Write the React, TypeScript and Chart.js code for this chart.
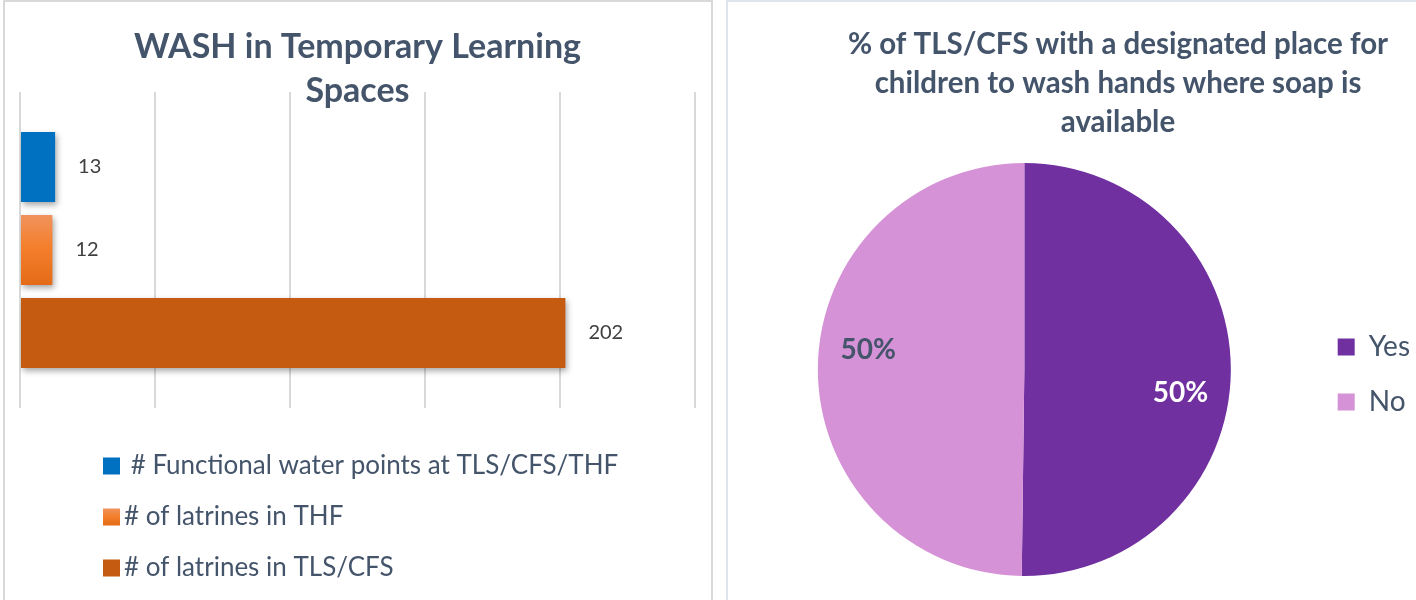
import React, { useEffect, useRef } from 'react';
import { Chart, registerables } from 'chart.js';

Chart.register(...registerables);
Chart.defaults.font.family = 'Lato';

// ---------- Bar chart data ----------
const barTitle = ['WASH in Temporary Learning', 'Spaces'];
const barCategories = [''];
const barSeriesLabels = [
  ' # Functional water points at TLS/CFS/THF',
  '# of latrines in THF',
  '# of latrines in TLS/CFS',
];
const barSeriesValues = [13, 12, 202];
const barAxisMin = 0;
const barAxisMax = 250;
const barAxisStep = 50;

// ---------- Pie chart data ----------
const pieTitle = [
  '% of TLS/CFS with a designated place for',
  'children to wash hands where soap is',
  'available',
];
const pieLabels = ['Yes', 'No'];
const pieValues = [50.2, 49.8];

// ---------- Styles ----------
const TITLE_COLOR = '#44546A';
const BLUE = '#0070C0';
const DARK_ORANGE = '#C55A11';
const CAT_PCT = 0.788;
const BAR_PCT = 0.843;
const pieColors = ['#7030A0', '#D592D6'];
const pieLabelColors = ['#FFFFFF', '#44546A'];

function orangeGradient(ctx: CanvasRenderingContext2D, top: number, bottom: number) {
  const g = ctx.createLinearGradient(0, top, 0, bottom);
  g.addColorStop(0, '#F0935E');
  g.addColorStop(0.45, '#F47F2C');
  g.addColorStop(1, '#E46C18');
  return g;
}

const barShadow = {
  id: 'barShadow',
  beforeDatasetDraw(chart: any) {
    const ctx = chart.ctx;
    ctx.save();
    ctx.shadowColor = 'rgba(0,0,0,0.35)';
    ctx.shadowBlur = 6;
    ctx.shadowOffsetX = 2;
    ctx.shadowOffsetY = 3;
  },
  afterDatasetDraw(chart: any) {
    chart.ctx.restore();
  },
};

const barValueLabels = {
  id: 'barValueLabels',
  afterDatasetsDraw(chart: any) {
    const ctx = chart.ctx;
    ctx.save();
    ctx.font = '20px Lato';
    ctx.fillStyle = '#404040';
    ctx.textAlign = 'left';
    ctx.textBaseline = 'middle';
    chart.data.datasets.forEach((ds: any, i: number) => {
      const meta = chart.getDatasetMeta(i);
      meta.data.forEach((el: any, j: number) => {
        ctx.fillText(String(ds.data[j]), el.x + 23, el.y);
      });
    });
    ctx.restore();
  },
};

const barLegend = {
  id: 'barLegend',
  afterDraw(chart: any) {
    const { ctx, chartArea } = chart;
    ctx.save();
    ctx.font = '26px Lato';
    ctx.textAlign = 'left';
    ctx.textBaseline = 'middle';
    chart.data.datasets.forEach((ds: any, i: number) => {
      const y = chartArea.bottom + 58 + i * 51;
      const x = chartArea.left + 83;
      const size = 17;
      ctx.fillStyle = i === 1 ? orangeGradient(ctx, y - size / 2, y + size / 2) : ds.legendColor;
      ctx.fillRect(x, y - size / 2, size, size);
      ctx.fillStyle = TITLE_COLOR;
      ctx.fillText(ds.label, x + size + 4, y);
    });
    ctx.restore();
  },
};

const pieValueLabels = {
  id: 'pieValueLabels',
  afterDatasetsDraw(chart: any) {
    const ctx = chart.ctx;
    const data: number[] = chart.data.datasets[0].data;
    const total = data.reduce((a, b) => a + b, 0);
    const meta = chart.getDatasetMeta(0);
    ctx.save();
    ctx.font = 'bold 28px Lato';
    ctx.textAlign = 'center';
    ctx.textBaseline = 'middle';
    meta.data.forEach((arc: any, i: number) => {
      const { x, y, startAngle, endAngle, outerRadius } = arc.getProps(
        ['x', 'y', 'startAngle', 'endAngle', 'outerRadius'],
        true
      );
      const mid = (startAngle + endAngle) / 2 + 0.128;
      const r = outerRadius * 0.763;
      ctx.fillStyle = pieLabelColors[i];
      ctx.fillText(
        Math.round((data[i] / total) * 100) + '%',
        x + Math.cos(mid) * r,
        y + Math.sin(mid) * r + 2
      );
    });
    ctx.restore();
  },
};

const widenTitle = {
  id: 'widenTitle',
  afterLayout(chart: any) {
    const t = chart.titleBlock;
    if (t) {
      t.left = 0;
      t.right = chart.width;
      t.width = chart.width;
    }
  },
};

function BarPanel() {
  const ref = useRef<HTMLCanvasElement>(null);
  useEffect(() => {
    if (!ref.current) return;
    const chart = new Chart(ref.current, {
      type: 'bar',
      data: {
        labels: barCategories,
        datasets: [
          {
            label: barSeriesLabels[0],
            data: [barSeriesValues[0]],
            backgroundColor: BLUE,
            legendColor: BLUE,
            categoryPercentage: CAT_PCT,
            barPercentage: BAR_PCT,
          } as any,
          {
            label: barSeriesLabels[1],
            data: [barSeriesValues[1]],
            backgroundColor: (c: any) => {
              const chart = c.chart;
              const area = chart.chartArea;
              if (!area || !chart.scales.y) return '#ED7D31';
              const center = chart.scales.y.getPixelForValue(0);
              const h = ((area.bottom - area.top) * CAT_PCT * BAR_PCT) / 3;
              return orangeGradient(chart.ctx, center - h / 2, center + h / 2);
            },
            legendColor: '#ED7D31',
            categoryPercentage: CAT_PCT,
            barPercentage: BAR_PCT,
          } as any,
          {
            label: barSeriesLabels[2],
            data: [barSeriesValues[2]],
            backgroundColor: DARK_ORANGE,
            legendColor: DARK_ORANGE,
            categoryPercentage: CAT_PCT,
            barPercentage: BAR_PCT,
          } as any,
        ],
      },
      options: {
        indexAxis: 'y',
        responsive: false,
        animation: false,
        layout: { padding: { left: 14, right: 15, top: 0, bottom: 192 } },
        scales: {
          x: {
            min: barAxisMin,
            max: barAxisMax,
            ticks: { stepSize: barAxisStep, display: false },
            grid: { color: '#D9D9D9', lineWidth: 2, drawTicks: false },
            border: { display: false },
          },
          y: { display: false },
        },
        plugins: {
          legend: { display: false },
          tooltip: { enabled: false },
          title: {
            display: true,
            text: barTitle,
            color: TITLE_COLOR,
            font: { family: 'Lato', size: 34, weight: 'bold', lineHeight: '44px' },
            padding: { top: 22, bottom: -21 },
          },
        },
      } as any,
      plugins: [barShadow, barValueLabels, barLegend],
    });
    return () => chart.destroy();
  }, []);
  return (
    <canvas
      ref={ref}
      width={704}
      height={597}
      style={{ position: 'absolute', left: 6, top: 3, width: 704, height: 597 }}
    />
  );
}

function PiePanel() {
  const ref = useRef<HTMLCanvasElement>(null);
  useEffect(() => {
    if (!ref.current) return;
    const chart = new Chart(ref.current, {
      type: 'pie',
      data: {
        labels: pieLabels,
        datasets: [
          {
            data: pieValues,
            backgroundColor: pieColors,
            borderWidth: 0,
          },
        ],
      },
      options: {
        responsive: false,
        animation: false,
        layout: { padding: { left: 10, right: 88, top: 0, bottom: 24 } },
        plugins: {
          tooltip: { enabled: false },
          title: {
            display: true,
            text: pieTitle,
            color: TITLE_COLOR,
            font: { family: 'Lato', size: 29.5, weight: 'bold', lineHeight: '39px' },
            padding: { top: 21.5, bottom: 21.5 },
          },
          legend: {
            position: 'right',
            fullSize: false,
            title: { display: true, text: '', padding: 0, font: { size: 8, lineHeight: '10px' } },
            labels: {
              boxWidth: 17,
              boxHeight: 17,
              padding: 27,
              color: TITLE_COLOR,
              font: { family: 'Lato', size: 28 },
            },
          },
        },
      } as any,
      plugins: [pieValueLabels, widenTitle],
    });
    return () => chart.destroy();
  }, []);
  return (
    <canvas
      ref={ref}
      width={780}
      height={597}
      style={{ position: 'absolute', left: 728, top: 3, width: 780, height: 597 }}
    />
  );
}

export default function App() {
  return (
    <div
      style={{
        position: 'fixed',
        left: 0,
        top: 0,
        width: 1416,
        height: 600,
        overflow: 'hidden',
        background: '#FFFFFF',
      }}
    >
      <div
        style={{
          position: 'absolute',
          left: 3,
          top: 0,
          width: 710,
          height: 700,
          border: '2px solid #D9D9D9',
          boxSizing: 'border-box',
        }}
      />
      <div
        style={{
          position: 'absolute',
          left: 726,
          top: 0,
          width: 800,
          height: 700,
          border: '2px solid #DFE5EC',
          boxSizing: 'border-box',
        }}
      />
      <BarPanel />
      <PiePanel />
    </div>
  );
}
